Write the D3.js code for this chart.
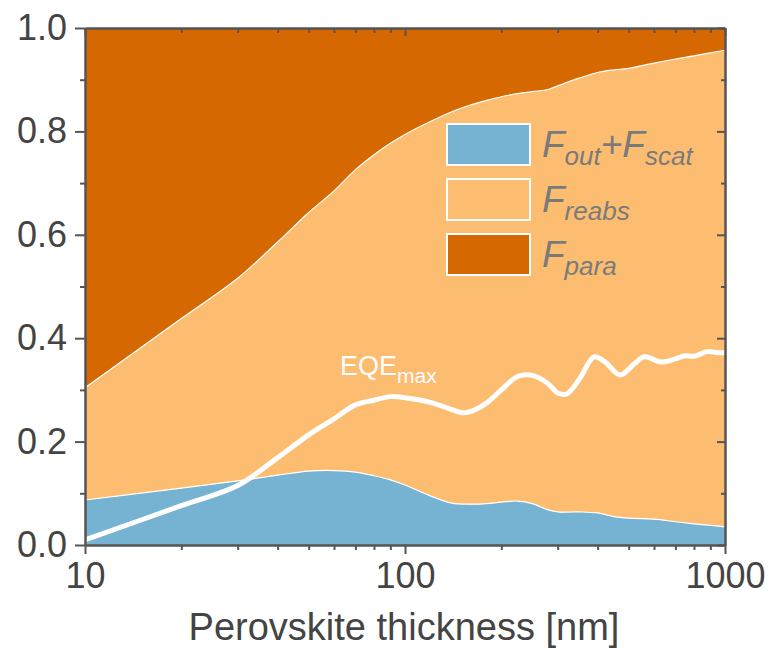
<!DOCTYPE html>
<html>
<head>
<meta charset="utf-8">
<script src="https://cdn.jsdelivr.net/npm/d3@7"></script>
<style>
  body { margin: 0; background: #fff; }
  svg { display: block; font-family: "Liberation Sans", Arial, sans-serif; }
</style>
</head>
<body>
<svg id="chart" width="770" height="653"></svg>
<script>
// thickness grid (nm) for the stacked fractions
var thickness = [10, 20, 30, 40, 50, 60, 70, 80, 90, 100, 120, 140, 160, 180, 200,
                 225, 250, 280, 300, 350, 400, 450, 500, 600, 700, 800, 900, 1000]
// F_out + F_scat (bottom layer)
var fOutScat = [0.087, 0.110, 0.124, 0.135, 0.143, 0.144, 0.141, 0.134, 0.126, 0.116,
                0.095, 0.081, 0.079, 0.080, 0.083, 0.085, 0.080, 0.068, 0.064, 0.064,
                0.062, 0.055, 0.052, 0.050, 0.045, 0.041, 0.038, 0.035]
// F_reabs (middle layer)
var fReabs = [0.217, 0.328, 0.392, 0.451, 0.500, 0.541, 0.585, 0.621, 0.651, 0.678,
              0.724, 0.757, 0.772, 0.780, 0.784, 0.788, 0.797, 0.813, 0.824, 0.839,
              0.852, 0.864, 0.870, 0.882, 0.895, 0.905, 0.914, 0.922]

// EQE_max curve
var eqeThickness = [10, 20, 30, 40, 50, 60, 70, 80, 90, 100, 120, 140, 150, 160, 180,
                    200, 225, 250, 280, 300, 320, 350, 390, 420, 470, 520, 560, 630,
                    700, 750, 800, 880, 950, 1000]
var eqeMax = [0.010, 0.076, 0.115, 0.169, 0.213, 0.244, 0.271, 0.280, 0.287, 0.285,
              0.276, 0.262, 0.256, 0.258, 0.275, 0.300, 0.326, 0.328, 0.312, 0.294,
              0.292, 0.320, 0.364, 0.355, 0.329, 0.350, 0.364, 0.354, 0.360, 0.366,
              0.365, 0.374, 0.372, 0.372]

var keys = ["out", "reabs", "para"]
var legendLabels = [["F", "out", "+F", "scat"], ["F", "reabs"], ["F", "para"]]
var colors = ["#76b3d3", "#fdbd71", "#d56800"]

var yMajor = [0, 0.2, 0.4, 0.6, 0.8, 1.0]
var yMinor = [0.1, 0.3, 0.5, 0.7, 0.9]
var xMajor = [10, 100, 1000]
var xMinor = [20, 30, 40, 50, 60, 70, 80, 90, 200, 300, 400, 500, 600, 700, 800, 900]

var margin = { top: 28, left: 85 }
var width = 640
var height = 517
var axisColor = "#555"

var svg = d3.select("#chart")
var g = svg.append("g")
    .attr("transform", "translate(" + margin.left + "," + margin.top + ")")

var x = d3.scaleLog().domain([10, 1000]).range([0, width])
var y = d3.scaleLinear().domain([0, 1]).range([height, 0])
var curve = d3.curveCatmullRom.alpha(0.5)

// table for the stack
var rows = thickness.map(function(t, i) {
    return { t: t, out: fOutScat[i], reabs: fReabs[i], para: 1 - fOutScat[i] - fReabs[i] }
})
var stacked = d3.stack().keys(keys)(rows)

var area = d3.area()
    .x(function(d) { return x(d.data.t) })
    .y0(function(d) { return y(d[0]) })
    .y1(function(d) { return y(d[1]) })
    .curve(curve)

g.selectAll(".layer")
    .data(stacked)
    .enter().append("path")
    .attr("class", "layer")
    .attr("d", area)
    .attr("fill", function(d, i) { return colors[i] })

// thin white borders between layers
var edge = d3.line()
    .x(function(d) { return x(d.data.t) })
    .y(function(d) { return y(d[1]) })
    .curve(curve)

g.selectAll(".edge")
    .data(stacked.slice(0, 2))
    .enter().append("path")
    .attr("class", "edge")
    .attr("d", edge)
    .attr("fill", "none")
    .attr("stroke", "#fff")
    .attr("stroke-width", 1.2)

// EQE_max line
var eqeLine = d3.line()
    .x(function(d) { return x(d[0]) })
    .y(function(d) { return y(d[1]) })
    .curve(curve)

g.append("path")
    .datum(d3.zip(eqeThickness, eqeMax))
    .attr("d", eqeLine)
    .attr("fill", "none")
    .attr("stroke", "#fff")
    .attr("stroke-width", 5)
    .attr("stroke-linejoin", "round")

var eqeLabel = g.append("text")
    .attr("x", 255)
    .attr("y", 347)
    .attr("fill", "#fff")
    .style("font-size", "27px")
eqeLabel.append("tspan").text("EQE")
eqeLabel.append("tspan").attr("dy", 8).style("font-size", "21px").text("max")

// axes
function styleAxis(sel) {
    sel.select(".domain").attr("stroke", axisColor).attr("stroke-width", 2)
    sel.selectAll(".tick line").attr("stroke", axisColor).attr("stroke-width", 2)
    sel.selectAll(".tick text").attr("fill", "#444").style("font-size", "36px")
        .style("font-family", "'Liberation Sans', Arial, sans-serif")
}

// left
g.append("g")
    .call(d3.axisLeft(y).tickValues(yMinor).tickSize(5).tickFormat("").tickSizeOuter(0))
    .call(styleAxis)
g.append("g")
    .call(d3.axisLeft(y).tickValues(yMajor).tickSize(10).tickPadding(8)
        .tickFormat(d3.format(".1f")).tickSizeOuter(0))
    .call(styleAxis)

// bottom
g.append("g")
    .attr("transform", "translate(0," + height + ")")
    .call(d3.axisBottom(x).tickValues(xMinor).tickSize(5).tickFormat("").tickSizeOuter(0))
    .call(styleAxis)
g.append("g")
    .attr("transform", "translate(0," + height + ")")
    .call(d3.axisBottom(x).tickValues(xMajor).tickSize(9).tickPadding(8)
        .tickFormat(d3.format("d")).tickSizeOuter(0))
    .call(styleAxis)

// top (ticks inward)
g.append("g")
    .call(d3.axisBottom(x).tickValues(xMinor).tickSize(5).tickFormat("").tickSizeOuter(0))
    .call(styleAxis)
g.append("g")
    .call(d3.axisBottom(x).tickValues(xMajor).tickSize(8).tickFormat("").tickSizeOuter(0))
    .call(styleAxis)

// right (ticks inward)
g.append("g")
    .attr("transform", "translate(" + width + ",0)")
    .call(d3.axisLeft(y).tickValues(yMinor).tickSize(4).tickFormat("").tickSizeOuter(0))
    .call(styleAxis)
g.append("g")
    .attr("transform", "translate(" + width + ",0)")
    .call(d3.axisLeft(y).tickValues(yMajor).tickSize(8).tickFormat("").tickSizeOuter(0))
    .call(styleAxis)

// axis title
g.append("text")
    .attr("x", width / 2 - 1)
    .attr("y", 612)
    .attr("text-anchor", "middle")
    .attr("fill", "#444")
    .style("font-size", "38px")
    .text("Perovskite thickness [nm]")

// legend
var legend = g.append("g").attr("transform", "translate(362,96)")
var items = legend.selectAll(".legendItem")
    .data(keys)
    .enter().append("g")
    .attr("class", "legendItem")
    .attr("transform", function(d, i) { return "translate(0," + (i * 55) + ")" })

items.append("rect")
    .attr("width", 83)
    .attr("height", 41)
    .attr("fill", function(d, i) { return colors[i] })
    .attr("stroke", "#fff")
    .attr("stroke-width", 2)

items.append("text")
    .attr("x", 95)
    .attr("y", 33)
    .attr("fill", "#7a7a7a")
    .style("font-style", "italic")
    .style("font-size", "37px")
    .each(function(d, i) {
        var t = d3.select(this)
        legendLabels[i].forEach(function(s, j) {
            var sub = j % 2 == 1
            t.append("tspan")
                .attr("dy", j == 0 ? 0 : (sub ? 8 : -8))
                .style("font-size", sub ? "26px" : "37px")
                .text(s)
        })
    })
</script>
</body>
</html>
